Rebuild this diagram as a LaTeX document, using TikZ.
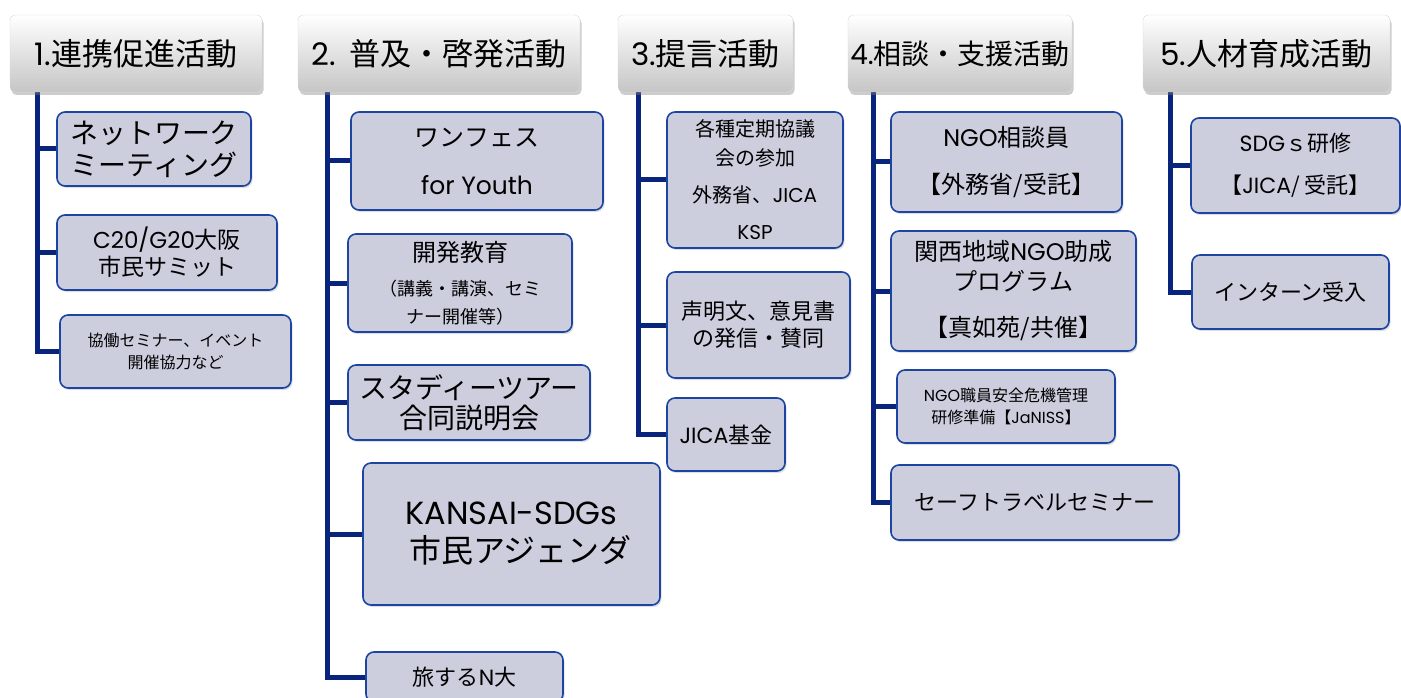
\documentclass[tikz,border=0pt]{standalone}
\usepackage{fontspec}
\setmainfont{Noto Sans CJK JP}
\newfontfamily\lat{Poppins}
\usetikzlibrary{positioning,shadows,backgrounds}
\definecolor{navy}{RGB}{8,36,124}
\definecolor{boxfill}{RGB}{204,206,222}
\definecolor{boxline}{RGB}{28,68,160}
\newcommand{\fs}[2]{\fontsize{#1}{#2}\selectfont}
\newcommand{\la}[1]{{\lat #1}}
\tikzset{head/.style={draw=gray!30,rounded corners=5pt,top color=white,bottom color=gray!45,
           drop shadow={opacity=0.4,shadow xshift=1.5pt,shadow yshift=-3pt},
           minimum height=77pt,inner sep=0pt,font=\fs{31}{35}},
         item/.style={draw=boxline,line width=1.6pt,fill=boxfill,rounded corners=8pt,
           align=center,inner sep=0pt,
           drop shadow={opacity=0.25,shadow xshift=1.5pt,shadow yshift=-2pt}},
         trunk/.style={navy,line width=5pt}
}
\begin{document}
\begin{tikzpicture}[x=1pt,y=-1pt]
\useasboundingbox (0,0) rectangle (1401,698);

\node[head,minimum width=252pt] (h1) at (136,53.5) {\la{1.}連携促進活動};
\node[head,minimum width=282pt] (h2) at (439,53.5) {\la{2.}\ \ 普及・啓発活動};
\node[head,minimum width=175pt] (h3) at (705.5,53.5) {\la{3.}提言活動};
\node[head,minimum width=224pt,font=\fs{28}{32}] (h4) at (960,53.5) {\la{4.}相談・支援活動};
\node[head,minimum width=247pt] (h5) at (1266.5,53.5) {\la{5.}人材育成活動};

\node[item,minimum width=194pt,minimum height=74pt,font=\fs{28}{32}] (net) at (154,149) {ネットワーク\\ミーティング};
\node[item,minimum width=220pt,minimum height=75pt,font=\fs{23}{27}] (summit) at (167,252.5) {\la{C20/G20}大阪\\市民サミット};
\node[item,minimum width=231pt,minimum height=73pt,font=\fs{16}{22}] (kyodo) at (175.5,351.5) {協働セミナー、イベント\\開催協力など};

\node[item,minimum width=252pt,minimum height=98pt,font=\fs{25}{29}] (onefes) at (477,161) {ワンフェス\\[19pt]\la{for Youth}};
\node[item,minimum width=224pt,minimum height=98pt,font=\fs{24}{28}] (kaihatsu) at (460,283) {開発教育\\[6pt]\fs{18}{23}（講義・講演、セミ\\\fs{18}{23}ナー開催等）};
\node[item,minimum width=242pt,minimum height=75pt,font=\fs{28}{30}] (study) at (469,402.5) {スタディーツアー\\合同説明会};
\node[item,minimum width=297pt,minimum height=142pt,font=\fs{32}{38}] (agenda) at (511.5,534) {\la{KANSAI-SDGs}\\\hspace*{18pt}市民アジェンダ};
\node[item,minimum width=197pt,minimum height=50pt,font=\fs{22}{26}] (ndai) at (464.5,677) {旅する\la{N}大};

\node[item,minimum width=176pt,minimum height=136pt,font=\fs{20}{29}] (kyogi) at (755,180) {各種定期協議\\会の参加\\[8pt]外務省、\la{JICA}\\[8pt]\la{KSP}};
\node[item,minimum width=183pt,minimum height=106pt,font=\fs{22}{27}] (seimei) at (758.5,325) {声明文、意見書\\の発信・賛同};
\node[item,minimum width=118pt,minimum height=73pt,font=\fs{22}{26}] (kikin) at (726,434.5) {\la{JICA}基金};

\node[item,minimum width=231pt,minimum height=100pt,font=\fs{24}{29}] (sodan) at (1006.5,162) {\la{NGO}相談員\\[18pt]【外務省/受託】};
\node[item,minimum width=245pt,minimum height=120pt,font=\fs{24}{30}] (josei) at (1013.5,291) {関西地域\la{NGO}助成\\プログラム\\[16pt]【真如苑/共催】};
\node[item,minimum width=218pt,minimum height=73pt,font=\fs{16}{22}] (anzen) at (1006,406.5) {\la{NGO}職員安全危機管理\\研修準備【\la{JaNISS}】};
\node[item,minimum width=288pt,minimum height=75pt,font=\fs{22}{26}] (travel) at (1035,502.5) {セーフトラベルセミナー};

\node[item,minimum width=209pt,minimum height=95pt,font=\fs{22}{27}] (kenshu) at (1295.5,165.5) {\la{SDG}ｓ研修\\[15pt]【\la{JICA}/ 受託】};
\node[item,minimum width=197pt,minimum height=74pt,font=\fs{22}{26}] (intern) at (1290.5,292) {インターン受入};

\coordinate (t1) at (37,92);
\coordinate (t2) at (327,92);
\coordinate (t3) at (638,92);
\coordinate (t4) at (873,92);
\coordinate (t5) at (1170,92);

\begin{scope}[on background layer]
\draw[trunk] (t1) |- (net.west);
\draw[trunk] (t1) |- (summit.west);
\draw[trunk] (t1) |- (kyodo.west);
\draw[trunk] (t2) |- (onefes.west);
\draw[trunk] (t2) |- (kaihatsu.west);
\draw[trunk] (t2) |- (study.west);
\draw[trunk] (t2) |- (agenda.west);
\draw[trunk] (t2) |- (ndai.west);
\draw[trunk] (t3) |- (kyogi.west);
\draw[trunk] (t3) |- (seimei.west);
\draw[trunk] (t3) |- (kikin.west);
\draw[trunk] (t4) |- (sodan.west);
\draw[trunk] (t4) |- (josei.west);
\draw[trunk] (t4) |- (anzen.west);
\draw[trunk] (t4) |- (travel.west);
\draw[trunk] (t5) |- (kenshu.west);
\draw[trunk] (t5) |- (intern.west);
\end{scope}

\end{tikzpicture}
\end{document}
